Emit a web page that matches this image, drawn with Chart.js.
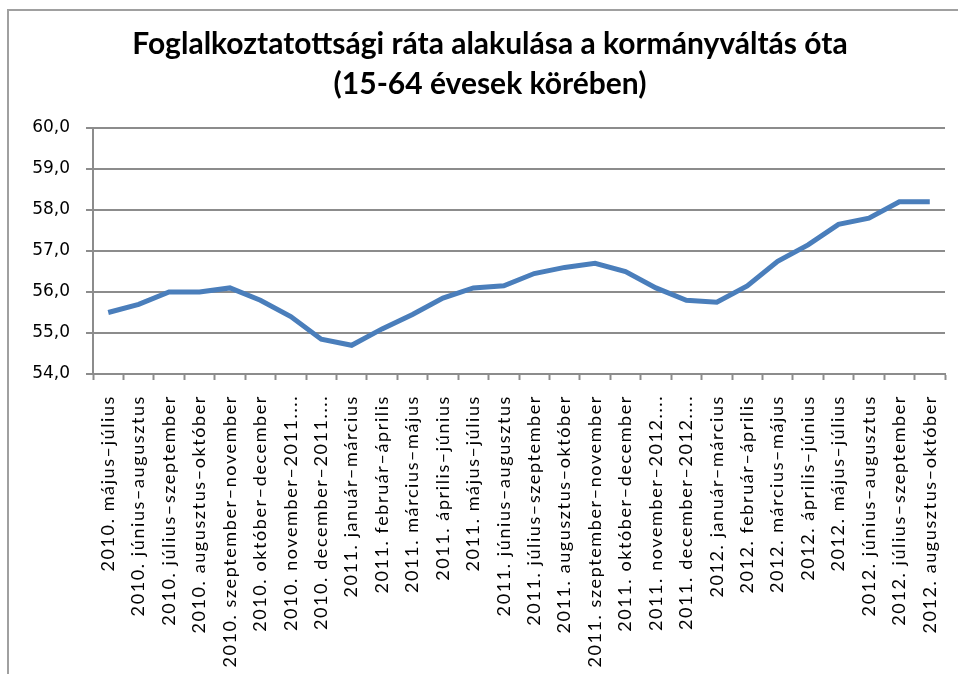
<!DOCTYPE html>
<html>
<head>
<meta charset="utf-8">
<script src="https://cdn.jsdelivr.net/npm/chart.js@4.4.1/dist/chart.umd.min.js"></script>
<style>
html, body { margin: 0; padding: 0; overflow: hidden; background: #fff; }
#wrap { position: relative; width: 958px; height: 674px; }
#frame { position: absolute; left: 7px; top: 9px; width: 1000px; height: 700px; border: 2px solid #a0a0a0; }
canvas { position: absolute; left: 0; top: 0; }
</style>
</head>
<body>
<div id="wrap"><div id="frame"></div><canvas id="chart" width="958" height="674"></canvas></div>
<script>
// periods (three-month moving windows)
const periods = [
    "2010. május–július", "2010. június–augusztus", "2010. július–szeptember",
    "2010. augusztus–október", "2010. szeptember–november", "2010. október–december",
    "2010. november–2011....", "2010. december–2011....", "2011. január–március",
    "2011. február–április", "2011. március–május", "2011. április–június",
    "2011. május–július", "2011. június–augusztus", "2011. július–szeptember",
    "2011. augusztus–október", "2011. szeptember–november", "2011. október–december",
    "2011. november–2012....", "2011. december–2012....", "2012. január–március",
    "2012. február–április", "2012. március–május", "2012. április–június",
    "2012. május–július", "2012. június–augusztus", "2012. július–szeptember",
    "2012. augusztus–október"
];

// employment rate, %
const rate = [
    55.5, 55.7, 56.0, 56.0, 56.1, 55.8, 55.4, 54.85, 54.7, 55.1,
    55.45, 55.85, 56.1, 56.15, 56.45, 56.6, 56.7, 56.5, 56.1, 55.8,
    55.75, 56.15, 56.75, 57.15, 57.65, 57.8, 58.2, 58.2
];

const yTicks = [54, 55, 56, 57, 58, 59, 60];

const titleLines = ["Foglalkoztatottsági ráta alakulása a kormányváltás óta", "(15-64 évesek körében)"];

const ctx = document.getElementById("chart");

new Chart(ctx, {
    type: "line",
    data: {
        labels: periods,
        datasets: [
            {
                data: rate,
                borderColor: "#4a7ebb",
                borderWidth: 5,
                pointRadius: 0,
                tension: 0,
                fill: false,
            },
        ],
    },
    options: {
        responsive: false,
        animation: false,
        layout: {
            padding: { left: 22, right: 0, top: 0, bottom: 0 },
        },
        plugins: {
            legend: { display: false },
            tooltip: { enabled: false },
            title: {
                display: true,
                text: titleLines,
                color: "#000",
                font: { family: "Lato", size: 30, weight: "bold", lineHeight: 1.35 },
                padding: { top: 24, bottom: 23 },
            },
        },
        scales: {
            x: {
                offset: true,
                grid: {
                    offset: true,
                    drawOnChartArea: false,
                    drawTicks: true,
                    tickLength: 6,
                    tickColor: "#8c8c8c",
                    tickWidth: 2,
                },
                border: { color: "#8c8c8c", width: 2 },
                ticks: {
                    autoSkip: false,
                    maxRotation: 90,
                    minRotation: 90,
                    padding: 15,
                    color: "#000",
                    font: { family: "Lato", size: 18 },
                },
                afterFit: (scale) => {
                    scale.height = 300;
                    scale.paddingRight = 13;
                },
                // the Excel labels are spread out, so widen the letter spacing for this axis only
                afterUpdate: (scale) => {
                    if (scale._spaced) return;
                    scale._spaced = true;
                    const drawLabels = scale.drawLabels.bind(scale);
                    scale.drawLabels = (area) => {
                        const c = scale.ctx;
                        c.save();
                        c.letterSpacing = "1.6px";
                        drawLabels(area);
                        c.restore();
                    };
                },
            },
            y: {
                min: 54,
                max: 60,
                afterBuildTicks: (scale) => {
                    scale.ticks = yTicks.map((v) => ({ value: v }));
                },
                grid: {
                    color: "#8c8c8c",
                    lineWidth: 2,
                    tickLength: 7,
                },
                border: { color: "#8c8c8c", width: 2 },
                ticks: {
                    padding: 16,
                    color: "#000",
                    font: { family: "DejaVu Sans", size: 17 },
                    callback: (v) => v.toFixed(1).replace(".", ","),
                },
                afterFit: (scale) => {
                    scale.width = 71;
                },
            },
        },
    },
});
</script>
</body>
</html>
